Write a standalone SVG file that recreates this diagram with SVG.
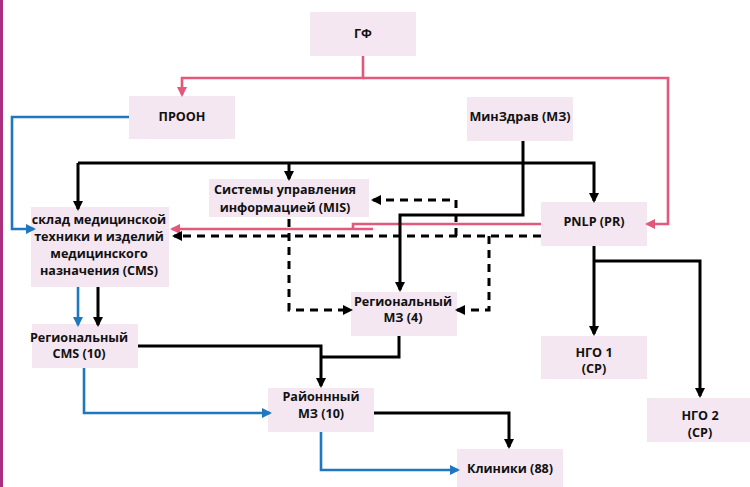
<svg xmlns="http://www.w3.org/2000/svg" width="750" height="487" viewBox="0 0 750 487">
<style>
.box{fill:#f4e7f1}
text{font-family:"Open Sans","Liberation Sans",sans-serif;font-weight:700;font-size:12.6px;fill:#111;text-anchor:middle}
.c{fill:none;stroke-width:3}
.k{stroke:#000}
.p{stroke:#e4587b;stroke-width:2.6}
.b{stroke:#1f77c0;stroke-width:2.6}
.d{stroke-dasharray:8 6}
</style>
<defs>
<marker id="ak" viewBox="0 0 10 10" refX="8" refY="5" markerWidth="10" markerHeight="10" markerUnits="userSpaceOnUse" orient="auto"><path d="M0,0L10,5L0,10z" fill="#000"/></marker>
<marker id="ap" viewBox="0 0 10 10" refX="8" refY="5" markerWidth="10" markerHeight="10" markerUnits="userSpaceOnUse" orient="auto"><path d="M0,0L10,5L0,10z" fill="#e4587b"/></marker>
<marker id="ab" viewBox="0 0 10 10" refX="8" refY="5" markerWidth="10" markerHeight="10" markerUnits="userSpaceOnUse" orient="auto"><path d="M0,0L10,5L0,10z" fill="#1f77c0"/></marker>
</defs>
<rect x="0" y="0" width="3" height="487" fill="#a8307f"/>
<g id="gf"><rect class="box" x="310" y="12" width="106" height="44"/><text x="363" y="38">ГФ</text></g>
<g id="proon"><rect class="box" x="129" y="96" width="106" height="43"/><text x="182" y="121">ПРООН</text></g>
<g id="mz"><rect class="box" x="467" y="97" width="106" height="44"/><text x="520" y="121">МинЗдрав (МЗ)</text></g>
<g id="mis"><rect class="box" x="209" y="179" width="160" height="38"/><text x="285" y="194">Системы управления</text><text x="285" y="212">информацией (MIS)</text></g>
<g id="cms"><rect class="box" x="31" y="207" width="138" height="80"/><text x="99" y="224">склад медицинской</text><text x="99" y="241">техники и изделий</text><text x="99" y="258">медицинского</text><text x="99" y="275">назначения (CMS)</text></g>
<g id="pnlp"><rect class="box" x="541" y="202" width="106" height="44"/><text x="594" y="226">PNLP (PR)</text></g>
<g id="regmz"><rect class="box" x="351" y="292" width="106" height="44"/><text x="403" y="306">Региональный</text><text x="403" y="322">МЗ (4)</text></g>
<g id="regcms"><rect class="box" x="32" y="324" width="106" height="44"/><text x="79" y="342">Региональный</text><text x="79" y="358">CMS (10)</text></g>
<g id="raymz"><rect class="box" x="268" y="388" width="106" height="44"/><text x="321" y="401">Районнный</text><text x="321" y="418">МЗ (10)</text></g>
<g id="ngo1"><rect class="box" x="541" y="336" width="106" height="43"/><text x="594" y="357">НГО 1</text><text x="594" y="373">(СР)</text></g>
<g id="ngo2"><rect class="box" x="647" y="398" width="106" height="44"/><text x="700" y="420">НГО 2</text><text x="700" y="437">(СР)</text></g>
<g id="clinics"><rect class="box" x="457" y="449" width="106" height="44"/><text x="510" y="473">Клиники (88)</text></g>
<g id="connectors">
<path class="c p" d="M363,56V78H182V95" marker-end="url(#ap)"/>
<path class="c p" d="M363,78H668V224H647" marker-end="url(#ap)"/>
<path class="c p" d="M541,224H353V229"/>
<path class="c p" d="M373,229H172" marker-end="url(#ap)"/>
<path class="c b" d="M129,117H12V229H34" marker-end="url(#ab)"/>
<path class="c b" d="M78,287V325" marker-end="url(#ab)"/>
<path class="c b" d="M84,368V413H270" marker-end="url(#ab)"/>
<path class="c b" d="M321,432V470H458" marker-end="url(#ab)"/>
<path class="c k" d="M78,163H594V201" marker-end="url(#ak)"/>
<path class="c k" d="M78,163V209" marker-end="url(#ak)"/>
<path class="c k" d="M289,163V179" marker-end="url(#ak)"/>
<path class="c k" d="M523,141V215H400V290" marker-end="url(#ak)"/>
<path class="c k" d="M98,287V325" marker-end="url(#ak)"/>
<path class="c k" d="M138,346H321V386" marker-end="url(#ak)"/>
<path class="c k" d="M399,336V357H321"/>
<path class="c k" d="M374,413H509V447" marker-end="url(#ak)"/>
<path class="c k" d="M594,246V334" marker-end="url(#ak)"/>
<path class="c k" d="M594,261H700V396" marker-end="url(#ak)"/>
<path class="c k d" d="M541,236H174" marker-end="url(#ak)"/>
<path class="c k d" d="M289,219V310H351" marker-end="url(#ak)"/>
<path class="c k d" d="M456,236V200H373" marker-end="url(#ak)"/>
<path class="c k d" d="M489,236V310H457" marker-end="url(#ak)"/>
</g>
</svg>
